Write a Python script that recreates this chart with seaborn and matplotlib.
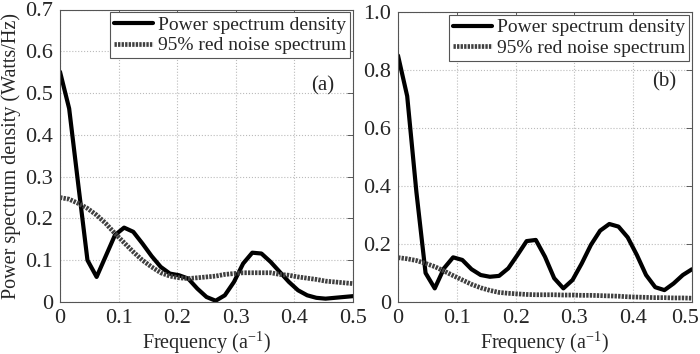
import matplotlib
matplotlib.use("Agg")
import matplotlib.pyplot as plt
import matplotlib.transforms as mtransforms
import seaborn as sns
import pandas as pd

freq = [0.0, 0.015625, 0.03125, 0.046875, 0.0625, 0.078125, 0.09375, 0.109375,
        0.125, 0.140625, 0.15625, 0.171875, 0.1875, 0.203125, 0.21875, 0.234375,
        0.25, 0.265625, 0.28125, 0.296875, 0.3125, 0.328125, 0.34375, 0.359375,
        0.375, 0.390625, 0.40625, 0.421875, 0.4375, 0.453125, 0.46875, 0.484375, 0.5]

psd_a = [0.551, 0.463, 0.28, 0.10, 0.06, 0.11, 0.16, 0.178, 0.168, 0.14, 0.11,
         0.084, 0.068, 0.064, 0.056, 0.032, 0.012, 0.003, 0.016, 0.048, 0.092,
         0.118, 0.116, 0.096, 0.072, 0.048, 0.028, 0.016, 0.010, 0.008, 0.010,
         0.012, 0.014]
red_a = [0.25, 0.246, 0.236, 0.224, 0.208, 0.188, 0.164, 0.142, 0.12, 0.10,
         0.084, 0.07, 0.062, 0.058, 0.056, 0.058, 0.06, 0.062, 0.066, 0.068,
         0.07, 0.07, 0.07, 0.07, 0.066, 0.064, 0.06, 0.057, 0.054, 0.05, 0.048,
         0.046, 0.044]

psd_b = [0.85, 0.71, 0.38, 0.10, 0.047, 0.116, 0.154, 0.145, 0.113, 0.093,
         0.087, 0.09, 0.116, 0.162, 0.21, 0.214, 0.156, 0.082, 0.047, 0.076,
         0.133, 0.197, 0.246, 0.269, 0.26, 0.223, 0.162, 0.093, 0.051, 0.041,
         0.064, 0.093, 0.113]
red_b = [0.153, 0.149, 0.143, 0.133, 0.122, 0.107, 0.091, 0.076, 0.061, 0.049,
         0.04, 0.033, 0.03, 0.028, 0.026, 0.025, 0.025, 0.025, 0.024, 0.024,
         0.023, 0.023, 0.022, 0.021, 0.02, 0.018, 0.017, 0.016, 0.015, 0.015,
         0.014, 0.014, 0.013]

series_names = ["Power spectrum density", "95% red noise spectrum"]
panel_tags = ["(a)", "(b)"]
xticks = [0, 0.1, 0.2, 0.3, 0.4, 0.5]
xticklabels = ["0", "0.1", "0.2", "0.3", "0.4", "0.5"]
yticks_a = [0, 0.1, 0.2, 0.3, 0.4, 0.5, 0.6, 0.7]
yticklabels_a = ["0", "0.1", "0.2", "0.3", "0.4", "0.5", "0.6", "0.7"]
yticks_b = [0, 0.2, 0.4, 0.6, 0.8, 1.0]
yticklabels_b = ["0", "0.2", "0.4", "0.6", "0.8", "1.0"]
xlabel = r"Frequency (a$^{-1}$)"
ylabel = "Power spectrum density (Watts/Hz)"

sns.set_style("white")
plt.rcParams["font.family"] = ["Liberation Serif", "DejaVu Serif"]
plt.rcParams["mathtext.fontset"] = "custom"
plt.rcParams["mathtext.rm"] = "Liberation Serif"
plt.rcParams["mathtext.it"] = "Liberation Serif:italic"

fig = plt.figure(figsize=(7.0, 3.54), dpi=100)
ax_a = fig.add_axes([60/700, 52/354, 293/700, 292.5/354])
ax_b = fig.add_axes([398/700, 52/354, 294/700, 290/354])

palette = {series_names[0]: "black", series_names[1]: "#404040"}

def draw(ax, psd, red, yticks, yticklabels, ymax, tag, tagpos):
    df = pd.DataFrame({
        "freq": freq + freq,
        "value": psd + red,
        "series": [series_names[0]] * len(freq) + [series_names[1]] * len(freq),
    })
    sns.lineplot(data=df, x="freq", y="value", hue="series", palette=palette,
                 ax=ax, linewidth=3.0, sort=False, legend=True)
    lines = ax.get_lines()
    lines[1].set_dashes((0.5, 0.25))
    lines[1].set_linewidth(3.4)
    ax.set_xlim(0, 0.5)
    ax.set_ylim(0, ymax)
    ax.set_xticks(xticks)
    ax.set_xticklabels(xticklabels)
    ax.set_yticks(yticks)
    ax.set_yticklabels(yticklabels)
    ax.tick_params(direction="in", top=True, right=True, length=4, width=0.6,
                   labelsize=16, color="#444444", pad=5)
    ax.grid(True, linestyle=":", color="#bbbbbb", linewidth=0.8)
    for s in ax.spines.values():
        s.set_color("#555555")
        s.set_linewidth(0.8)
    ax.set_xlabel(xlabel, fontsize=14.5, labelpad=1)
    ax.set_ylabel("")
    leg = ax.legend(handles=ax.get_lines()[:2], labels=series_names,
                    loc="upper right", fontsize=14, frameon=True, fancybox=False,
                    edgecolor="#555555", framealpha=1, handlelength=2.0,
                    handletextpad=0.25, labelspacing=0.15, borderpad=0.2,
                    borderaxespad=0.15)
    leg.get_frame().set_linewidth(0.8)
    leg.legend_handles[1].set_dashes((0.5, 0.25))
    ax.text(tagpos[0], tagpos[1], tag, transform=ax.transAxes, fontsize=15,
            ha="center", va="center")

draw(ax_a, psd_a, red_a, yticks_a, yticklabels_a, 0.7, panel_tags[0], (0.895, 0.74))
draw(ax_b, psd_b, red_b, yticks_b, yticklabels_b, 1.0, panel_tags[1], (0.905, 0.76))
ax_a.set_ylabel(ylabel, fontsize=14.5, labelpad=3)

# keep the last tick label of panel (b) inside the canvas
last = ax_b.get_xticklabels()[-1]
last.set_transform(last.get_transform() +
                   mtransforms.ScaledTranslation(-7/100, 0, fig.dpi_scale_trans))

fig.savefig("out.png", dpi=100)
